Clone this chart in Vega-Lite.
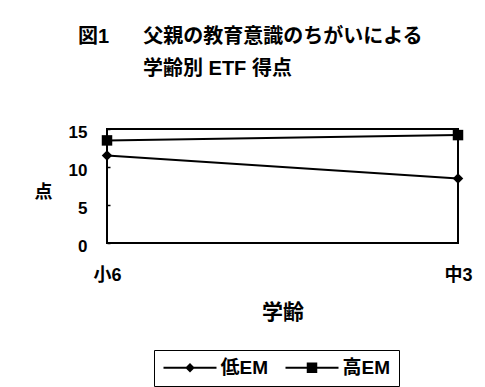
{
  "$schema": "https://vega.github.io/schema/vega-lite/v6.json",
  "autosize": {"type": "none"},
  "padding": {"left": 107, "top": 129, "right": 27, "bottom": 144},
  "width": 351,
  "height": 114,
  "background": "white",
  "title": {
    "text": ["図1　\u2002\u2009父親の教育意識のちがいによる", "\u200B　　　\u2005学齢別 ETF 得点"],
    "anchor": "start",
    "frame": "group",
    "dx": -29,
    "offset": 44,
    "font": "Liberation Sans, Noto Sans CJK JP",
    "fontSize": 20,
    "fontWeight": "bold",
    "lineHeight": 32,
    "color": "black"
  },
  "data": {
    "values": [
      {"学齢": "小6", "group": "低EM", "score": 11.5},
      {"学齢": "中3", "group": "低EM", "score": 8.5},
      {"学齢": "小6", "group": "高EM", "score": 13.5},
      {"学齢": "中3", "group": "高EM", "score": 14.2}
    ]
  },
  "encoding": {
    "x": {
      "field": "学齢",
      "type": "ordinal",
      "sort": ["小6", "中3"],
      "scale": {"type": "point", "padding": 0},
      "axis": {
        "labelAngle": 0,
        "ticks": false,
        "domain": false,
        "labelPadding": 23,
        "labelFontSize": 18,
        "titleFontSize": 21,
        "titlePadding": 17
      }
    },
    "y": {
      "field": "score",
      "type": "quantitative",
      "scale": {"domain": [0, 15], "nice": false, "zero": true},
      "axis": {
        "title": "点",
        "titleAngle": 0,
        "titleAlign": "center",
        "titleBaseline": "middle",
        "titleX": -64,
        "titleY": 63,
        "values": [0, 5, 10, 15],
        "domain": false,
        "tickSize": -3,
        "tickWidth": 1.5,
        "tickColor": "black",
        "labelPadding": 23,
        "labelOffset": 3
      }
    }
  },
  "layer": [
    {
      "mark": {"type": "line", "color": "black", "strokeWidth": 2},
      "encoding": {"detail": {"field": "group", "type": "nominal"}}
    },
    {
      "mark": {"type": "point", "filled": true, "color": "black", "size": 110, "opacity": 1},
      "encoding": {
        "shape": {
          "field": "group",
          "type": "nominal",
          "scale": {"domain": ["低EM", "高EM"], "range": ["diamond", "square"]},
          "legend": null
        }
      }
    },
    {
      "mark": {"type": "point", "filled": true, "color": "black", "opacity": 0},
      "encoding": {
        "shape": {
          "field": "group",
          "type": "nominal",
          "scale": {
            "domain": ["低EM", "高EM"],
            "range": [
              "M-5.3,-0.2H5.3V0.2H-5.3ZM0,-0.95L0.95,0L0,0.95L-0.95,0Z",
              "M-5.3,-0.2H5.3V0.2H-5.3ZM-1.05,-1.05H1.05V1.05H-1.05Z"
            ]
          },
          "legend": {
            "title": null,
            "orient": "none",
            "legendX": 47,
            "legendY": 221,
            "direction": "horizontal",
            "padding": 8,
            "strokeColor": "black",
            "symbolSize": 100,
            "symbolOpacity": 1,
            "symbolOffset": 18.5,
            "labelOffset": 21,
            "columnPadding": 13,
            "labelFontSize": 19,
            "encode": {
              "legend": {"strokeWidth": {"value": 1.5}}
            }
          }
        }
      }
    }
  ],
  "resolve": {"scale": {"shape": "independent"}, "legend": {"shape": "independent"}},
  "config": {
    "view": {"stroke": "black", "strokeWidth": 2},
    "axis": {
      "grid": false,
      "labelFont": "Liberation Sans, Noto Sans CJK JP",
      "labelFontSize": 17,
      "labelFontWeight": "bold",
      "labelColor": "black",
      "titleFont": "Liberation Sans, Noto Sans CJK JP",
      "titleFontSize": 18,
      "titleFontWeight": "bold",
      "titleColor": "black"
    },
    "legend": {
      "labelFont": "Liberation Sans, Noto Sans CJK JP",
      "labelFontSize": 19,
      "labelFontWeight": "bold",
      "labelColor": "black"
    }
  }
}
